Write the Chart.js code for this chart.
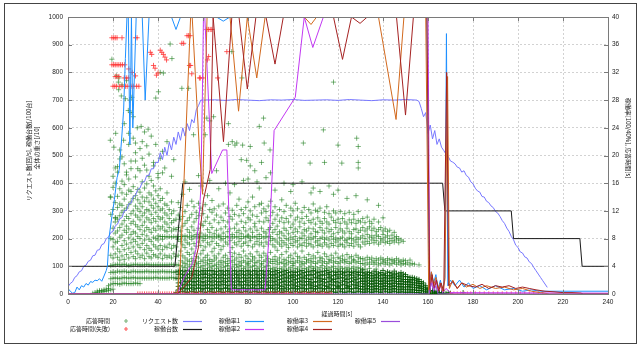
<!DOCTYPE html>
<html><head><meta charset="utf-8">
<script src="https://cdn.jsdelivr.net/npm/chart.js@4.4.0/dist/chart.umd.min.js"></script>
<style>html,body{margin:0;padding:0;background:#fff;}canvas{display:block;}</style>
</head><body>
<canvas id="c" width="641" height="346" style="width:641px;height:346px"></canvas>
<script>
// ---------- DATA ----------
const xTickStep = 20, xMax = 240;
const leftMax = 1000, leftStep = 100;
const rightMax = 40, rightStep = 4;

const xTitle = '経過時間[s]';
const leftTitle = ['リクエスト数[回/s], 稼働台数[/100台]', '全体の重さ[/10]'];
const rightTitle = '稼働率[100/40%], 応答時間[s]';

// 応答時間 [s] : columns [t, s1, s2, ...]
const respCols = [
[11,0.1],[12,0.2],[13,0.2,0.4],[14,0.3,0.5],[15,0.3,0.5],[16,0.4,0.6],[17,0.4,0.7],[18,0.5,0.8,1.2],
[19,0.6,1.4,2.2,3.1,4.1,5.6,8,11.5,14],
[20,0.7,1.5,2.3,3.2,4.2,5.2,6.8,7.9,9.5,12.2,15.4,17],
[21,1.5,2.3,3.1,4.2,5.8,7.4,8.8,10.4,11,13.2,16,18.2],
[22,1.5,2.3,3.3,4.3,5.3,6.5,7.6,9.1,10.8,12.5,14.1,17.6],
[23,1.4,2.2,3.2,4.2,4.9,6.1,8.2,9.6,11.3,13,15.2,19.5],
[24,1.5,2.3,3.2,4.2,5.5,7,8.5,10.1,11.8,12.8,14.6,16.3],
[25,1.6,2.4,3.3,4.3,5,6.4,7.7,9.2,10.6,12.1,13.7,15.8,18.8],
[26,1.5,2.3,3.2,4.2,5.7,7.2,8.9,9.8,11.2,12.4,14.4,17.2],
[27,1.5,2.3,3.1,4.1,5.2,6.6,8.1,9.4,10.9,12.9,15,16.6],
[28,1.5,2.3,3.2,4.2,6,7.4,8.6,10.2,11.6,13.3,14.8,18.1],
[29,1.5,2.4,3.3,4.2,5.4,6.8,7.9,9,10.5,12,13.8,15.5],
[30,1.6,2.3,3.2,4.3,5.1,6.2,7.6,8.8,10,11.4,12.7,14.2,16.9,19.2],
[31,1.5,2.3,3.2,4.2,5.8,7.1,8.3,9.7,11.1,12.3,13.6,15.1],
[32,1.5,2.3,3.2,4.2,5.3,6.7,8,9.3,10.7,11.9,13.1,14.7,17.8],
[33,2.3,3.2,4.2,5.6,7.3,8.6,9.9,11.3,12.6,14,16.2],
[34,2.3,3.2,4.2,5.1,6.4,7.8,9.1,10.4,11.7,13.4,15.3,18.6],
[35,2.3,3.3,4.3,5.9,7,8.4,9.6,11,12.2,13.9,15.9],
[36,2.3,3.2,4.2,5.4,6.6,7.9,9.3,10.7,12,13.3,14.6,17],
[37,2.3,3.2,4.2,5.2,6.3,7.6,8.9,10.3,11.5,12.8,14.3,16.4],
[38,2.3,3.2,4.2,5.7,7.1,8.2,9.5,10.9,12.4,13.7,15.6,19],
[39,2.4,3.2,4.2,5.5,6.8,8,9.2,10.5,11.8,13.1,14.9],
[40,2.3,3.2,4.2,5.3,6.5,7.8,8.4,9.8,11.2,12.6,14.2,16.8],
[41,2.3,3.2,4.2,5.8,7,8.3,9.4,10.8,12.1,13.5,15.2],
[42,2.3,3.3,4.2,5.1,6.4,7.9,8.3,9.7,11,12.3,13.8,17.5],
[43,2.3,3.2,4.2,5.6,6.9,8.3,9.2,10.4,11.7,13],
[44,2.3,3.2,4.2,5.3,6.7,8.2,9,10.1,11.4,12.8,14.6],
[45,2.3,3.2,4.2,5.5,7.2,8.3,9.6,10.9,12.2],
[46,2.4,3.2,4.3,5.2,6.6,8.2,9.1,10.3,11.6,13.3],
[47,2.3,3.1,4.2,5.8,7,8.3,9.4,10.6,12],
[48,0.2,2.3,3.2,4.2,5.4,6.8,8.2,9.3,10.8],
[49,0.2,0.6,1.1,1.6,2.2,2.8,3.3,4.2,5.6,7.9,8.3,9.6,11.4,13.2],
[50,0.3,0.8,1.2,1.7,2.3,2.9,3.4,4.1,4.8,6.2,7.6,8.3,9.1,10.8,12.5],
[51,0.4,0.9,1.4,1.9,2.4,2.8,3.3,3.9,4.6,5.5,7.1,8.3,9.8,11.2,14.4],
[52,0.3,0.8,1.3,1.8,2.2,2.7,3.2,3.8,4.4,5.2,6.7,7.8,8.4,10.2,11.9],
[53,0.2,0.7,1.2,1.7,2.3,2.8,3.4,4.2,4.9,6,7.4,8.3,9.3,10.6,12.8],
[54,0.3,0.8,1.4,1.9,2.4,2.9,3.3,3.9,4.7,5.7,7.2,8.2,8.9,11,15.1],
[55,0.4,0.9,1.3,1.8,2.3,2.7,3.2,3.7,4.3,5.1,6.5,7.9,8.4,9.7,11.5,13.4],
[56,0.3,0.7,1.2,1.7,2.2,2.8,3.3,4,4.8,5.9,7.3,8.3,9.2,10.4,12.6],
[57,0.2,0.8,1.3,1.8,2.4,2.9,3.4,4.2,4.6,5.4,6.9,8.1,8.6,10.9,11.8],
[58,0.3,0.9,1.4,1.9,2.3,2.7,3.2,3.8,4.4,5.2,7.5,8.3,9.5,11.3,13.1],
[59,0.4,0.8,1.2,1.7,2.2,2.8,3.3,3.9,4.7,5.8,7,8.2,8.8,10.1,12.4,15.6],
[60,0.3,0.7,1.3,1.8,2.4,2.9,3.4,4.1,4.9,6.3,7.7,8.3,9.9,11.6],
[61,0.2,0.8,1.2,1.7,2.3,2.8,3.2,3.7,4.5,5.3,6.8,8,8.5,10.5,12.9],
[62,0.3,0.9,1.4,1.9,2.4,2.9,3.4,4.2,4.8,5.6,7.4,8.3,9.3,11.1,14.2],
[63,0.4,0.8,1.3,1.8,2.2,2.7,3.3,3.8,4.4,5,7.1,8.2,8.9,10.2,12.2],
[64,0.3,0.7,1.2,1.7,2.3,2.8,3.4,4,4.7,6.1,7.6,8.3,9.6,11.8,13.5],
[65,0.2,0.8,1.3,1.9,2.4,2.9,3.3,4.1,4.9,5.5,6.6,8.1,8.7,10.7,12.3],
[66,0.3,0.9,1.4,1.8,2.3,2.8,3.2,3.7,4.3,5.2,7.3,8.3,9.2,11.4],
[67,0.4,0.8,1.2,1.7,2.2,2.7,3.3,3.9,4.6,5.8,7,8.2,8.5,10.3,12.7,15.2],
[68,0.3,0.7,1.3,1.8,2.4,2.9,3.4,4.2,4.8,6.4,7.8,8.3,9.4,11.1],
[69,0.2,0.8,1.4,1.9,2.3,2.8,3.2,3.8,4.5,5.3,6.9,8,8.8,10.6,13],
[70,0.3,0.9,1.3,1.7,2.2,2.7,3.3,4,4.7,5.6,7.5,8.3,9.7,11.7],
[71,0.4,0.8,1.2,1.8,2.3,2.9,3.4,4.1,4.4,5.1,7.2,8.2,9,10.4,12.4],
[72,0.3,0.7,1.3,1.9,2.4,2.8,3.2,3.7,4.8,6,7.7,8.3,9.4,11.2,14.6],
[73,0.2,0.8,1.4,1.8,2.2,2.7,3.3,3.9,4.6,5.4,6.7,8.1,8.6,10.8,12.1],
[74,0.3,0.9,1.2,1.7,2.3,2.9,3.4,4.2,4.9,5.9,7.4,8.3,9.5,11.5],
[75,0.4,0.8,1.3,1.9,2.4,2.8,3.2,3.8,4.3,5.2,7.1,8.2,8.9,10.1,12.8],
[76,0.3,0.7,1.4,1.8,2.2,2.7,3.3,4,4.7,5.7,7.6,8.3,9.2,11.3,13.7],
[77,0.2,0.8,1.2,1.7,2.3,2.9,3.4,4.1,4.5,5.3,6.9,8,8.7,10.5,12.2],
[78,0.3,0.9,1.3,1.8,2.4,2.8,3.2,3.7,4.8,6.2,7.3,8.3,9.6,11.6],
[79,0.4,0.8,1.4,1.9,2.2,2.7,3.3,3.9,4.6,5.5,7.5,8.2,9.1,10.3,12.5],
[80,0.3,0.7,1.2,1.7,2.3,2.9,3.4,4.2,4.4,5.1,7,8.3,8.5,11,13.3],
[81,0.2,0.8,1.3,1.9,2.4,2.8,3.2,3.8,4.7,5.8,7.7,8.1,9.4,10.7,12],
[82,0.3,0.9,1.4,1.8,2.2,2.7,3.3,4,4.9,5.4,6.8,8.3,8.9,11.4,14],
[83,0.4,0.8,1.2,1.7,2.3,2.9,3.4,4.1,4.5,5.2,7.2,8.2,9.7,10.2,12.6],
[84,0.3,0.7,1.3,1.9,2.4,2.8,3.2,3.7,4.6,6.1,7.6,8.3,9.2,11.2],
[85,0.2,0.8,1.4,1.8,2.2,2.7,3.3,3.9,4.8,5.6,7.1,8,8.6,10.5,12.9],
[86,0.3,0.9,1.2,1.7,2.3,2.9,3.4,4.2,4.4,5.3,7.4,8.3,9.5,11.7,13.1],
[87,0.4,0.8,1.3,1.9,2.4,2.8,3.2,3.8,4.7,5.9,6.9,8.1,9,10.4,12.3],
[88,0.3,0.7,1.4,1.8,2.2,2.7,3.3,4,4.9,5.5,7.5,8.3,8.8,11,11.9],
[89,0.2,0.8,1.2,1.7,2.3,2.9,3.4,4.1,4.5,5.1,7.2,8.2,9.3,10.6,12.7],
[90,0.3,0.9,1.3,1.9,2.4,2.8,3.2,3.7,4.7,6,7.7,8.3,9.6,11.3,13.4],
[91,0.3,0.8,1.2,1.7,2.2,2.7,3.2,3.6,4.4,5,7.1,8,8.9,10.2,11.8],
[92,0.2,0.7,1.3,1.8,2.3,2.8,3.3,3.8,4.7,5.4,6.8,7.8,9.3,10.8,12.6],
[93,0.4,0.9,1.4,1.9,2.4,2.9,3.4,4.3,4.9,6.3,7.5,8.6,9.8,11.4],
[94,0.3,0.8,1.2,1.6,2.1,2.6,3.1,3.7,4.5,5.2,7.2,8.1,9,10.5,12.2],
[95,0.2,0.6,1.1,1.7,2.2,2.7,3.2,3.6,4.6,5.7,6.9,7.7,8.8,11,13.6],
[96,0.3,0.8,1.3,1.8,2.3,2.8,3.3,3.9,4.4,5,7.4,8.4,9.5,10.3,11.9],
[97,0.4,0.9,1.4,1.9,2.4,2.9,3.4,4.2,4.8,6.1,7.1,8,9.2,10.9,12.8],
[98,0.3,0.7,1.2,1.7,2.2,2.6,3.1,3.6,4.5,5.3,6.7,7.8,8.7,10.4],
[99,0.2,0.8,1.3,1.8,2.3,2.7,3.2,3.8,4.7,5.6,7.3,8.2,9.6,11.3,12.4],
[100,0.3,0.9,1.4,1.9,2.4,2.8,3.3,4.1,4.4,5.1,7,7.9,8.9,10.1,12],
[101,0.4,0.8,1.2,1.6,2.1,2.6,3.1,3.7,4.6,5.9,7.5,8.3,9.4,10.7,13.1],
[102,0.3,0.7,1.1,1.7,2.2,2.7,3.2,3.6,4.8,5.4,6.8,7.7,9,11.1,12.3],
[103,0.2,0.8,1.3,1.8,2.3,2.8,3.3,3.9,4.5,5.2,7.2,8.1,9.7,10.4],
[104,0.3,0.9,1.4,1.9,2.4,2.9,3.4,4.2,4.7,6.2,7,8,8.8,10.9,11.8],
[105,0.4,0.8,1.2,1.7,2.2,2.6,3.1,3.7,4.4,5.3,7.4,8.4,9.3,10.2,12.5],
[106,0.3,0.7,1.3,1.8,2.3,2.7,3.2,3.6,4.6,5,6.9,7.8,9.1,11.2],
[107,0.2,0.8,1.4,1.8,2.2,2.8,3.3,3.8,4.8,5.7,7.3,8.2,9.5,10.6,12.2],
[108,0.3,0.9,1.2,1.6,2.1,2.7,3.2,4,4.5,5.1,7.1,7.9,8.7,10.3,11.7],
[109,0.4,0.8,1.3,1.7,2.3,2.8,3.4,3.7,4.7,5.5,6.8,8.1,9.4,10.8,13],
[110,0.3,0.7,1.1,1.8,2.4,2.9,3.3,3.9,4.4,5.2,7.5,8.3,9,10.1,12.1],
[111,0.2,0.8,1.2,1.7,2.2,2.6,3.1,3.6,4.6,6,7,7.7,8.9,11,11.9],
[112,0.3,0.9,1.4,1.9,2.3,2.7,3.2,3.8,4.8,5.3,7.2,8,9.6,10.5,12.4],
[113,0.4,0.8,1.3,1.8,2.2,2.8,3.3,4.1,4.5,5.1,6.9,8.2,9.2,10.2],
[114,0.3,0.7,1.2,1.6,2.1,2.7,3.2,3.7,4.7,5.8,7.4,7.9,8.8,10.9,11.8],
[115,0.2,0.8,1.1,1.7,2.3,2.9,3.4,3.9,4.4,5.4,7.1,8.1,9.5,10.4,12.6],
[116,0.3,0.9,1.3,1.8,2.4,2.8,3.1,3.6,4.6,5,6.8,7.8,9,10.1,11.6],
[117,0.4,0.8,1.4,1.9,2.2,2.6,3.2,3.8,4.8,5.6,7.3,8.3,9.3,11.1],
[118,0.3,0.7,1.2,1.7,2.1,2.7,3.3,4,4.5,5.2,7,7.9,8.7,10.6,12],
[119,0.2,0.8,1.3,1.8,2.3,2.8,3.1,3.7,4.7,5.9,7.5,8.1,9.6,10.3,11.7],
[120,0.3,0.9,1.1,1.6,2.2,2.6,3.2,3.6,4.4,5.3,6.9,7.8,8.9,10.8],
[121,0.4,0.8,1.2,1.7,2.3,2.8,3.3,3.9,4.6,5.1,7.2,8,9.4,10.2,11.9],
[122,0.3,0.7,1.4,1.9,2.4,2.9,3.2,3.7,4.8,5.5,7.1,8.2,9.1,10.9],
[123,0.2,0.8,1.3,1.8,2.2,2.7,3.1,3.6,4.5,5,6.8,7.7,8.8,10.4,11.6],
[124,0.3,0.9,1.2,1.6,2.1,2.6,3.3,3.8,4.7,5.7,7.4,7.9,9.5,10.1],
[125,0.4,0.8,1.1,1.7,2.3,2.8,3.2,3.6,4.4,5.2,7,8.1,9,10.7,11.8],
[126,0.3,0.7,1.3,1.8,2.2,2.7,3.1,3.7,4.6,5.4,7.3,8,8.7,10.3],
[127,0.2,0.8,1.4,1.9,2.4,2.9,3.3,3.9,4.8,5,6.9,7.8,9.3,10.8,11.5],
[128,0.3,0.9,1.2,1.7,2.1,2.6,3.2,3.6,4.5,5.6,7.5,8.2,9.4,10.2],
[129,0.4,0.8,1.3,1.6,2.3,2.8,3.1,3.8,4.7,5.3,7.1,7.9,8.9,10.6,11.9],
[130,0.3,0.7,1.1,1.8,2.2,2.7,3.3,3.7,4.4,5.1,6.8,8.1,9.2,10.4],
[131,0.3,0.7,1.1,1.5,1.9,2.3,2.7,3.1,3.5,4.4,5.1,7.5,8.4,9.6,10.9],
[132,0.2,0.6,1,1.4,1.8,2.2,2.6,3,3.6,4.2,4.9,7.2,8,9.1,10.3],
[133,0.4,0.8,1.2,1.6,2,2.4,2.8,3.2,4.5,5.3,7.6,8.6,9.4,11.1],
[134,0.3,0.7,1.1,1.5,1.9,2.3,2.7,3.1,3.7,4.3,5,7.3,8.2,9.7,10.5],
[135,0.2,0.6,1,1.4,1.8,2.2,2.6,3,4.6,5.2,7.8,8.4,9.2,10.2],
[136,0.3,0.7,1.1,1.5,1.9,2.3,2.7,3.3,4.3,4.8,7.4,8.1,9.5,10.8],
[137,0.4,0.8,1.2,1.6,2,2.4,2.8,3.2,3.6,4.5,5.1,7.7,8.5,9],
[138,0.3,0.7,1.1,1.5,1.9,2.3,2.6,3,4.2,4.9,7.2,8.3,9.3,10.4],
[139,0.2,0.6,1,1.4,1.8,2.2,2.7,3.1,4.4,5.2,7.5,8,9.6],
[140,0.3,0.7,1.1,1.5,1.9,2.3,2.8,3.4,4.6,5,7.8,8.6,9.1,11],
[141,0.4,0.8,1.2,1.6,2,2.4,2.7,3,4.3,4.8,7.4,8.2,9.4],
[142,0.3,0.7,1.1,1.5,1.8,2.2,2.6,3.2,4.5,5.1,7.6,8.4,9],
[143,0.2,0.6,1,1.4,1.9,2.3,2.7,3.1,4.2,4.9,7.3,8,9.2],
[144,0.3,0.7,1.1,1.5,1.9,2.3,2.6,3,4.4,5,7.7,8.5],
[145,0.4,0.8,1.2,1.6,2,2.4,2.8,3.3,4.6,4.8,7.5,8.1,8.9],
[146,0.3,0.7,1.1,1.5,1.8,2.2,2.6,3,4.3,5.1,7.8,8.3],
[147,0.2,0.6,1,1.4,1.8,2.2,2.5,2.9,4.5,4.9,7.4,8],
[148,0.3,0.7,1.1,1.5,1.9,2.3,2.7,3.1,4.2,4.7,7.8],
[149,0.3,0.7,1,1.4,1.8,2.1,2.5,2.9,4.4,4.9,7.6],
[150,0.2,0.6,1,1.4,1.7,2.1,2.5,2.8,4.3,4.8],
[151,0.3,0.7,1.1,1.4,1.8,2.1,2.5,4.5],
[152,0.2,0.6,1,1.3,1.7,2,2.4,4.2,4.9],
[153,0.3,0.6,1,1.4,1.7,2.1,2.4,4.4],
[154,0.2,0.6,0.9,1.3,1.6,2,2.3,4.3],
[155,0.2,0.5,0.9,1.2,1.6,1.9,2.2],
[156,0.2,0.5,0.9,1.2,1.5,1.8,2.1,4.2],
[157,0.1,0.5,0.8,1.1,1.5,1.8],
[158,0.1,0.4,0.7,1,1.3,1.6],
[159,0.1,0.3,0.6,0.9,1.2],
[160,0.1,0.3,0.6,0.8],[161,0.1,0.3,0.5],[162,0.1,0.3,0.5],[163,0.1,0.2,0.4],[164,0.1,0.3],
[165,0.1,0.2],[166,0.1,0.2],[167,0.1],[168,0.1],[169,0.2],[170,0.1],[175.6,0.2]
];
// 応答時間 sparse upper points [t, s]
const respSparse = [
[19.5,33.9],[21.5,31.5],[22.6,31.2],[22.4,30.6],[24,30.2],[26,30.8],[22.5,29.5],[23.7,28.6],[25.5,28.2],[27.4,28],[28.4,28.4],
[26.8,26.5],[29,25.6],[28,26.2],[24.7,22.2],[27,21.6],[30,21.8],[33,22],[35,21.4],[30.8,24],[32.5,24.2],[35.6,23.8],
[45.4,36.1],[46.2,34],[41,32],[42.4,31.9],[40.2,29.2],[39,28.3],[50.6,29.7],[53.6,29.7],[55.8,23],[61.7,25.4],[61,23],[63,25],
[64.7,25.6],[71.3,24.6],[72.8,35],[75,21.8],[77.3,31.2],[77.6,21.5],[81,21.3],[71.3,21.6],[73,22],[74.2,21.5],[85,24.2],
[86.9,25.4],[87.2,21.8],[89.8,20.8],[104.6,21.8],[107.6,18.9],[113.5,23.7],[114,19],[118,30.6],[120,21.5],[121.7,18.9],
[128.3,22.5],[129,21.3],[129,19],[129,18.2],[18.8,22.2],[21.2,23.2],[20.4,21.2],[18.8,14],[21.2,11],
[77,19.4],[79.4,19.3],[81,18.5],[83,17.8],[86,19],[88,16.8],[90,17.5],[78,16.4],[84,16.2],
[52,16.2],[58,17.1],[63,16.4],[66,17.8],[70,16],[74,15.8],[80,16.6],[85,15.3],[92,15],[96,16],[99,14.8],[100,15.8],
[104,16.2],[108,14.6],[109,15.3],[112,14.8],[116,15.6],[118,14.4],[120,15],[124,13.8],[128,14.2],[133,13.6],[138,12.8],
[22,18.4],[24,19.8],[26,17.6],[28,19.2],[30,20.4],[31,18.1],[33,19.6],[35,17.9],[36,20.2],[38,18.5],[40,17.4],[41,19.6],
[43,18.2],[46,17],[23,20.8],[25,24.6],[27,23.2],[29,22.5],[32,21],[34,23.4],[37,22.8],[39,21.6],[42,20.6],[44,22],[47,19.4]
];
// 応答時間(失敗) [t, s]
const failPts = [
[19.5,37],[20.3,37],[21,37],[21.8,37],[24,37],[30,37],[30.7,37],
[19.5,33.1],[20.3,33.1],[21,33.1],[21.8,33.1],[22.6,33.1],[23.4,33.1],[24.2,33.1],[25.2,33.1],
[21,31.4],[21.8,31.4],[22.6,31.4],[25,31.2],[25.9,31.2],[26.8,31.2],
[20,30],[20.8,30],[21.6,30],[23,30],[24,30],[25.5,30],[26.3,30],[28,30],[29,30],[30.5,30],[31.5,30],
[27,32.5],[28.5,32],[30,31.5],
[36.6,34.9],[37.2,34.6],[41,35.2],[41.7,34.9],[42.4,34.6],[43.1,34.2],[43.8,33.8],[38,33],[38.7,32.6],[39.3,31.6],[40,31.9],
[50.6,36.2],[51.4,36.2],[52.9,37.3],[53.6,37.3],[54.3,37.3],[61.7,38.2],[62.4,38.2],[63.2,38.2],[63.9,38.2],
[54,33],[54.5,33],[55,31.8],[58.4,31.2],[58.8,31.2],[60,31.2],[66.5,31.2],[62.5,34.3],[62,33.8],[70.6,35]
];
// failures with 0 s response time
const failZeroT = [31,32,33,34,35,36,37,38,39,40,41,42,43,44,45,46,47,48,49,50,51,52,53,54,55,56,57,58,59,60,
61,62,63,64,65,66,67,68,69,70,71,72,73,74,75,76,77,78,79,80,81,82,83,84,85,86,87,88,89,90,91,92,93,94,95,96,97,98,99,100,
101,102,103,104,105,106,107,108,109,110,111,112,113,114,115,116,117,
170,171.5,173,174.5,176,177.5,179,181,183,185,187,189,191,193,195,197,199,201,203,205,207,209,211];

// リクエスト数 [回/s]
const reqPts = [
[0,26],[1,38],[2,44],[3,60],[4,66],[5,80],[6,84],[7,100],[8,104],[9,118],[10,122],[11,138],[12,140],[13,158],[14,160],
[15,178],[16,182],[17,200],[18,205],[19,222],[20,226],[21,246],[22,252],[23,272],[24,276],[25,300],[26,302],[27,326],
[28,328],[29,352],[30,356],[31,378],[32,382],[33,404],[34,406],[35,428],[36,428],[37,452],[38,452],[39,476],[40,474],
[41,510],[42,485],[43,530],[44,500],[45,548],[46,520],[47,566],[48,540],[49,585],[50,555],[51,600],[52,570],[53,615],
[54,590],[55,630],[56,618],[57,665],[58,680],[59,700],[65,701],[70,699],[75,702],[80,700],[85,698],[90,701],[95,700],
[100,702],[105,699],[110,700],[115,701],[120,699],[125,702],[130,700],[135,698],[140,701],[145,700],[150,702],[155,700],
[156,695],[157,670],[158,640],[159,655],[160,580],[161,610],[162,560],[163,590],[164,540],[165,560],[166,530],[167,518],
[168,505],[169,496],[170,480],[171,476],[172,470],[173,458],[174,455],[175,440],[176,445],[177,428],[178,422],[179,405],
[180,398],[181,382],[182,372],[183,368],[184,352],[185,350],[186,335],[187,330],[188,318],[189,312],[190,298],[191,292],
[192,280],[193,265],[194,255],[195,238],[196,226],[197,208],[198,196],[199,176],[200,168],[201,152],[202,148],[203,134],
[204,130],[205,116],[206,110],[207,96],[208,84],[209,72],[210,60],[211,48],[212,36],[213,24]
];
// 稼働台数 [/100台]
const unitPts = [[0,100],[47.5,100],[51,400],[166.5,400],[167.5,300],[197,300],[198,200],[227.5,200],[228.5,100],[240,100]];

// 稼働率 [%]
const rate1 = [
[0,2],[1,1],[2,0.3],[3,0.5],[4,2.5],[5,1.5],[6,3],[7,2.5],[8,3.8],[9,3.2],[10,4.5],[11,4.2],[12,5],[13,4.8],[14,5.5],
[15,4.6],[16,6.5],[17,8.5],[17.5,10],[18.3,20.7],[19.5,28],[20.6,34],[21.8,42],[22.8,45],[23.8,55.6],[24.7,66],[25.5,85],
[26.2,100],[26.8,100],[27.5,54],[28.2,100],[28.8,60],[30.3,100],[33,100],[34.3,70],[36,100],[46,100],[48,95.5],[50,100],
[66,100],[69,98.5],[72,100],[159.5,100],[160.5,3],[161.5,8],[162.5,4],[163.5,7],[164.5,2],[165.5,5],[166.5,1],[167.5,6],
[168.2,94],[168.8,3],[170,5],[172,3],[174,5],[176,2.5],[178,4],[180,2],[183,3],[186,1.5],[190,3],[194,1.5],[198,2],
[202,1],[206,1.5],[210,1],[240,1]
];
const rate2 = [
[0,0],[48.5,0],[51.6,6],[55.3,11],[56.8,16],[58.3,28],[59,37.5],[59.7,70],[60.2,100],[60.8,100],[63.9,43.5],[68.7,52],
[70.6,52],[72.6,1.5],[87.6,1.5],[89.8,25.5],[91.6,59],[101,71],[105,100],[108.8,89],[113.5,100],[160,100],[160.8,1],
[161.5,6],[162.5,2],[163.5,5],[164.5,1],[165.5,3],[166.5,0.5],[168,2],[170,0.5],[240,0.3]
];
const rate3 = [
[0,0],[47,0],[48.7,0.5],[50,12],[51.5,40],[53,70],[54.5,100],[55.2,100],[58.4,52],[59.8,36],[61.8,100],[72,100],
[75.8,66],[79.7,100],[83.9,78],[87.6,100],[105,100],[108,97.3],[110.5,100],[138,100],[145.8,63],[149.3,100],[159,100],
[160.3,1],[161.5,8],[162.5,3],[163.5,6],[164.5,2],[165.5,4],[166.5,1],[167.5,5],[168.7,78.5],[169.5,2],[171,5],[173,2],
[175,4],[177,2.5],[180,3.5],[183,2],[186,3],[190,2],[194,2.5],[198,1.5],[202,2],[206,1],[210,0.5],[214,0],[240,0]
];
const rate4 = [
[0,0],[48.4,0],[51,2],[55,6],[58,17],[60.2,34],[63.2,45],[64.5,100],[64.8,100],[69.1,55],[72.8,100],[76,100],
[79.7,74],[83.5,100],[88,100],[92,83],[95.7,100],[118,100],[122,84.7],[126,100],[129.8,97.7],[133,100],[146,100],
[150,64.6],[153.5,100],[159.5,100],[160.8,0.5],[161.8,7],[162.8,2],[163.8,5],[164.8,1],[165.8,4],[167,1],[168.3,80],
[169.2,3],[171,4.5],[173,2],[175,4],[178,3],[181,2.5],[184,3.5],[187,2],[190,3],[193,2.5],[196,3],[199,2],[202,2.5],
[205,2],[208,1.5],[212,1],[216,0.8],[220,0.5],[224,0.5],[228,0.3],[229,0],[240,0]
];
const rate5 = [[0,0],[160.5,0],[161.5,4],[162.5,1],[163.5,3],[164.5,0],[240,0]];

// ---------- BUILD ----------
const pts = a => a.map(p => ({x: p[0], y: p[1]}));
const respData = respCols.flatMap(c => c.slice(1).map(s => ({x: c[0], y: s}))).concat(pts(respSparse));
const failData = pts(failPts).concat(failZeroT.map(t => ({x: t, y: 0})));

const CJK = '"Noto Sans CJK JP", "Noto Sans", sans-serif';
const tickFont = {family: '"Liberation Sans", Arial, sans-serif', size: 6.5};
const gridCol = '#d2d2d2';
const respLight = 'rgba(20,120,20,0.55)';
const respDark = 'rgba(0,85,0,0.8)';
const failCol = 'rgba(255,55,55,0.8)';

function lineDs(label, data, color, axis, order) {
  return {label, data: pts(data), yAxisID: axis, showLine: true, borderColor: color, backgroundColor: color,
          borderWidth: 1, pointRadius: 0, tension: 0, fill: false, order};
}

const datasets = [
  {label: '応答時間', data: respData, yAxisID: 'y2', pointStyle: 'cross', pointRadius: 2.6, borderWidth: 1,
   borderColor: c => (c.raw && c.raw.y < 3.6 && c.raw.x > 47) ? respDark : respLight,
   backgroundColor: respLight, showLine: false, order: 20, legendColor: respLight},
  {label: '応答時間(失敗)', data: failData, yAxisID: 'y2', pointStyle: 'cross', pointRadius: 2.6, borderWidth: 1,
   borderColor: failCol, backgroundColor: failCol, showLine: false, order: 19, legendColor: failCol},
  lineDs('リクエスト数', reqPts, '#7878ff', 'y', 9),
  lineDs('稼働台数', unitPts, '#1a1a1a', 'y', 8),
  lineDs('稼働率1', rate1, '#1e90ff', 'yp', 7),
  lineDs('稼働率2', rate2, '#c238f2', 'yp', 6),
  lineDs('稼働率3', rate3, '#d2691e', 'yp', 5),
  lineDs('稼働率4', rate4, '#a52222', 'yp', 4),
  lineDs('稼働率5', rate5, '#9a4ddb', 'yp', 3)
];

const bgPlugin = {
  id: 'bg',
  beforeDraw(chart) {
    const c = chart.ctx; c.save(); c.fillStyle = '#fff'; c.fillRect(0, 0, chart.width, chart.height); c.restore();
  }
};

const framePlugin = {
  id: 'frame',
  afterDatasetsDraw(chart) {
    const c = chart.ctx, a = chart.chartArea;
    c.save();
    c.strokeStyle = '#7a7a7a'; c.lineWidth = 1;
    c.strokeRect(Math.round(a.left) + 0.5, Math.round(a.top) + 0.5, Math.round(a.right - a.left), Math.round(a.bottom - a.top));
    c.beginPath();
    const sx = chart.scales.x, sy = chart.scales.y;
    for (let v = 0; v <= xMax; v += xTickStep) {
      const px = Math.round(sx.getPixelForValue(v)) + 0.5;
      c.moveTo(px, a.bottom); c.lineTo(px, a.bottom - 4);
      c.moveTo(px, a.top); c.lineTo(px, a.top + 4);
    }
    for (let v = 0; v <= leftMax; v += leftStep) {
      const py = Math.round(sy.getPixelForValue(v)) + 0.5;
      c.moveTo(a.left, py); c.lineTo(a.left + 4, py);
      c.moveTo(a.right, py); c.lineTo(a.right - 4, py);
    }
    c.stroke();
    c.restore();
  },
  afterDraw(chart) {
    const c = chart.ctx;
    c.save();
    c.fillStyle = '#222';
    c.font = '6px ' + CJK;
    c.textBaseline = 'middle';
    c.save(); c.translate(29, 151); c.rotate(-Math.PI / 2); c.textAlign = 'center';
    c.fillText(leftTitle[0], 0, 0); c.restore();
    c.save(); c.translate(37, 148); c.rotate(-Math.PI / 2); c.textAlign = 'center';
    c.fillText(leftTitle[1], 0, 0); c.restore();
    c.save(); c.translate(628, 138); c.rotate(Math.PI / 2); c.textAlign = 'center';
    c.fillText(rightTitle, 0, 0); c.restore();
    c.textAlign = 'center';
    c.fillText(xTitle, 337, 314);
    // legend
    const colRight = [110, 178, 240, 308, 376];
    const rowY = [321, 329];
    chart.data.datasets.forEach((ds, i) => {
      const col = Math.floor(i / 2), row = i % 2;
      const xr = colRight[col], y = rowY[row];
      c.textAlign = 'right'; c.fillStyle = '#222';
      c.fillText(ds.label, xr, y);
      const col_ = ds.showLine ? ds.borderColor : ds.legendColor;
      c.strokeStyle = col_; c.lineWidth = 1.2;
      c.beginPath();
      if (ds.showLine) {
        c.moveTo(xr + 5, y + 0.5); c.lineTo(xr + 24, y + 0.5);
      } else {
        const cx = xr + 16;
        c.moveTo(cx - 2, y); c.lineTo(cx + 2, y); c.moveTo(cx, y - 2); c.lineTo(cx, y + 2);
      }
      c.stroke();
    });
    c.strokeStyle = '#444'; c.lineWidth = 1;
    c.strokeRect(4.5, 3.5, 632, 340);
    c.restore();
  }
};

const numLabel = v => String(v);

new Chart(document.getElementById('c'), {
  type: 'scatter',
  data: {datasets},
  options: {
    responsive: false, animation: false, events: [],
    devicePixelRatio: 1,
    layout: {padding: {top: 17, left: 0, right: 0, bottom: 0}},
    plugins: {legend: {display: false}, tooltip: {enabled: false}},
    scales: {
      x: {type: 'linear', min: 0, max: xMax,
          ticks: {stepSize: xTickStep, font: tickFont, color: '#222', padding: 4, maxRotation: 0, callback: numLabel},
          grid: {color: gridCol, drawTicks: false}, border: {display: false, dash: [2, 2]},
          afterFit(s) { s.height = 52; }},
      y: {type: 'linear', position: 'left', min: 0, max: leftMax,
          ticks: {stepSize: leftStep, font: tickFont, color: '#222', padding: 5, callback: numLabel},
          grid: {color: gridCol, drawTicks: false}, border: {display: false, dash: [2, 2]},
          afterFit(s) { s.width = 68; }},
      y2: {type: 'linear', position: 'right', min: 0, max: rightMax,
          ticks: {stepSize: rightStep, font: tickFont, color: '#222', padding: 4, callback: numLabel},
          grid: {drawOnChartArea: false, drawTicks: false}, border: {display: false},
          afterFit(s) { s.width = 33; }},
      yp: {type: 'linear', display: false, min: 0, max: 100}
    }
  },
  plugins: [bgPlugin, framePlugin]
});
</script>
</body></html>
